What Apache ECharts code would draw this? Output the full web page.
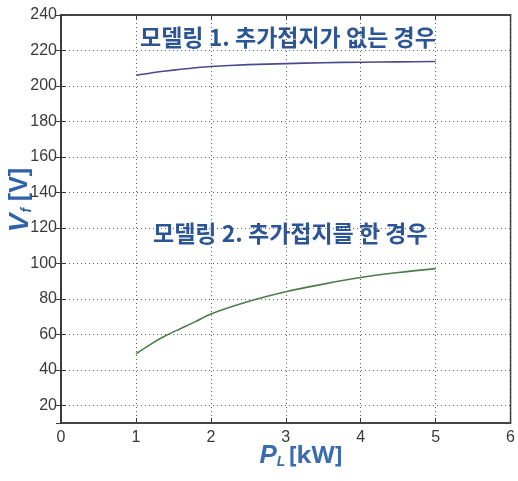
<!DOCTYPE html>
<html>
<head>
<meta charset="utf-8">
<script src="https://cdn.jsdelivr.net/npm/echarts@6/dist/echarts.min.js"></script>
<style>
  html, body { margin: 0; padding: 0; background: #ffffff; }
  #chart { width: 518px; height: 481px; }
</style>
</head>
<body>
<div id="chart"></div>
<script>
// Load power P_L [kW] against voltage V_f [V]
const loadPower = [1, 1.2, 1.4, 1.6, 1.8, 2, 2.5, 3, 3.5, 4, 4.5, 5];
const vfNoExtraGround = [206, 207.3, 208.4, 209.4, 210.3, 211, 212, 212.6, 213.1, 213.4, 213.6, 213.8];
const vfExtraGround = [49, 54.5, 59.3, 63.3, 67.3, 71.5, 78.5, 84, 88.3, 92, 94.8, 97];

const xTicks = [0, 1, 2, 3, 4, 5, 6];
const yRange = [10, 240];
const yStep = 20;

const labelNoExtra = '모델링 1. 추가접지가 없는 경우';
const labelExtra = '모델링 2. 추가접지를 한 경우';

const tickFont = '"Liberation Sans Narrow", "Liberation Sans", Arial, sans-serif';
const krFont = '"Noto Sans CJK KR", "Noto Sans", sans-serif';
const blueText = '#2c5596';

const chart = echarts.init(document.getElementById('chart'));

const gridLine = { show: true, lineStyle: { color: '#5e5e5e', type: [1, 3], width: 1 } };
const boxLine = { show: true, lineStyle: { color: '#3a3a3a', width: 1.5 } };

chart.setOption({
  backgroundColor: '#ffffff',
  animation: false,
  grid: {
    left: 61, top: 15, right: 4, bottom: 58,
    show: true, borderColor: '#3a3a3a', borderWidth: 1.5, backgroundColor: 'transparent'
  },
  xAxis: [{
    type: 'value',
    min: xTicks[0], max: xTicks[xTicks.length - 1], interval: 1,
    axisLine: boxLine,
    axisTick: { show: true, inside: true, length: 5, lineStyle: { color: '#3a3a3a' } },
    axisLabel: { color: '#3a3a3a', fontSize: 16, fontFamily: tickFont, margin: 7 },
    splitLine: gridLine
  }, {
    type: 'value', position: 'top',
    min: xTicks[0], max: xTicks[xTicks.length - 1], interval: 1,
    axisLine: boxLine,
    axisTick: { show: true, inside: true, length: 5, lineStyle: { color: '#3a3a3a' } },
    axisLabel: { show: false },
    splitLine: { show: false }
  }],
  yAxis: [{
    type: 'value',
    min: yRange[0], max: yRange[1], splitNumber: 12,
    minInterval: yStep, maxInterval: yStep,
    axisLine: boxLine,
    axisTick: { show: true, inside: true, length: 5, lineStyle: { color: '#3a3a3a' } },
    axisLabel: { color: '#3a3a3a', fontSize: 16, fontFamily: tickFont, margin: 4, showMinLabel: false },
    splitLine: gridLine
  }, {
    type: 'value', position: 'right',
    min: yRange[0], max: yRange[1], splitNumber: 12,
    minInterval: yStep, maxInterval: yStep,
    axisLine: boxLine,
    axisTick: { show: true, inside: true, length: 5, lineStyle: { color: '#3a3a3a' } },
    axisLabel: { show: false },
    splitLine: { show: false }
  }],
  series: [{
    name: labelNoExtra,
    type: 'line',
    data: loadPower.map((p, i) => [p, vfNoExtraGround[i]]),
    showSymbol: false, smooth: 0.3,
    lineStyle: { color: '#4a4a8e', width: 1.6 }
  }, {
    name: labelExtra,
    type: 'line',
    data: loadPower.map((p, i) => [p, vfExtraGround[i]]),
    showSymbol: false, smooth: 0.3,
    lineStyle: { color: '#4c7d4c', width: 1.6 }
  }],
  graphic: [{
    type: 'text', x: 140, y: 37,
    style: { text: labelNoExtra, fill: blueText, font: 'bold 23px ' + krFont, verticalAlign: 'middle' }
  }, {
    type: 'text', x: 153, y: 233,
    style: { text: labelExtra, fill: blueText, font: 'bold 23px ' + krFont, verticalAlign: 'middle' }
  }, {
    // y-axis title: V_f [V], rotated
    type: 'group', x: 20, y: 200, rotation: Math.PI / 2,
    children: [{
      type: 'text',
      style: {
        text: '{v|V}{s|f}  {u|[V]}',
        align: 'center', verticalAlign: 'middle',
        rich: {
          v: { fill: '#2f62a8', font: 'italic bold 28px "Liberation Sans", Arial, sans-serif' },
          s: { fill: '#2f62a8', font: 'italic bold 14px "Liberation Sans", Arial, sans-serif', padding: [14, 0, 0, 1] },
          u: { fill: '#2f62a8', font: 'bold 25px "Liberation Sans", Arial, sans-serif' }
        }
      }
    }]
  }, {
    // x-axis title: P_L [kW]
    type: 'text', x: 301, y: 456,
    style: {
      text: '{v|P}{s|L} {u|[kW]}',
      align: 'center', verticalAlign: 'middle',
      rich: {
        v: { fill: '#3a6cb0', font: 'italic bold 26px "Liberation Sans", Arial, sans-serif' },
        s: { fill: '#3a6cb0', font: 'italic bold 14px "Liberation Sans", Arial, sans-serif', padding: [13, 0, 0, 0] },
        u: { fill: '#3a6cb0', font: 'bold 24px "Open Sans", "Liberation Sans", Arial, sans-serif' }
      }
    }
  }]
});
</script>
</body>
</html>
